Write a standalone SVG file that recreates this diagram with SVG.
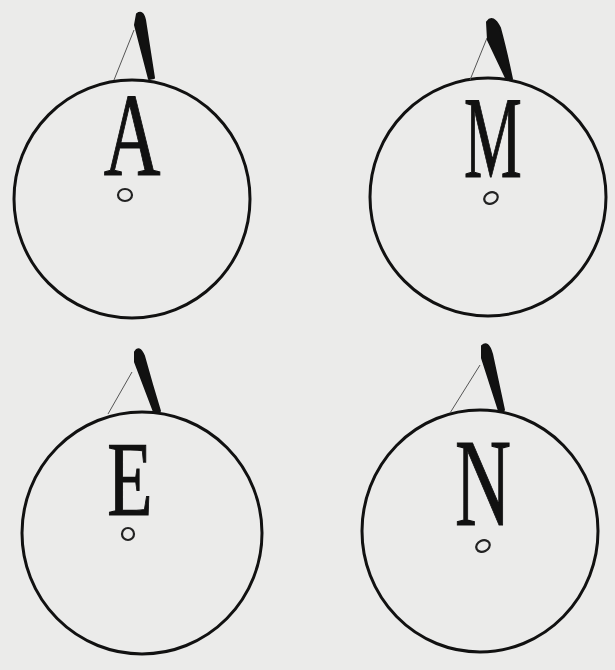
<svg xmlns="http://www.w3.org/2000/svg" width="615" height="670" viewBox="0 0 615 670">
<style>
.ring{fill:none;stroke:#111;stroke-width:3}
.thin{fill:none;stroke:#555;stroke-width:1}
.horn{fill:#111;stroke:#111;stroke-width:2;stroke-linejoin:round}
.dot{fill:none;stroke:#222;stroke-width:2.2}
.let{font-family:"Liberation Serif",serif;fill:#111;stroke:#111;stroke-width:1.2;text-anchor:middle}
</style>
<rect width="615" height="670" fill="#ebebea"/>
<g id="nodeA">
<ellipse class="ring" cx="132" cy="199" rx="118" ry="119"/>
<path class="thin" d="M134 30 L114 80"/>
<path class="horn" d="M137 14 Q143 10 145 20 L154 78 L149 79 L135 25 Z"/>
<text class="let" x="0" y="0" font-size="119" transform="translate(132 175) scale(0.66 1)">A</text>
<ellipse class="dot" cx="125" cy="195" rx="7" ry="6"/>
</g>
<g id="nodeM">
<ellipse class="ring" cx="488" cy="197" rx="118" ry="119"/>
<path class="thin" d="M487 38 L470 80"/>
<path class="horn" d="M487 22 Q493 14 500 28 Q506 50 512 79 L507 80 L488 40 Z"/>
<text class="let" x="0" y="0" font-size="116" transform="translate(493 177) scale(0.56 1)">M</text>
<ellipse class="dot" cx="491" cy="198" rx="7" ry="5.5" transform="rotate(-25 491 198)"/>
</g>
<g id="nodeE">
<ellipse class="ring" cx="142" cy="533" rx="120" ry="121"/>
<path class="thin" d="M132 372 L108 414"/>
<path class="horn" d="M135 352 Q139 345 144 356 Q152 385 160 411 L154 412 L135 362 Z"/>
<text class="let" x="0" y="0" font-size="106" transform="translate(130 515) scale(0.7 1)">E</text>
<ellipse class="dot" cx="128" cy="534" rx="6" ry="6"/>
</g>
<g id="nodeN">
<ellipse class="ring" cx="480" cy="531" rx="118" ry="121"/>
<path class="thin" d="M480 365 L450 413"/>
<path class="horn" d="M482 346 Q488 340 492 354 Q498 382 504 410 L499 411 L482 358 Z"/>
<text class="let" x="0" y="0" font-size="125" transform="translate(483 525) scale(0.62 1)">N</text>
<ellipse class="dot" cx="483" cy="546" rx="7" ry="5.5" transform="rotate(-25 483 546)"/>
</g>
<g id="connectors"></g>
</svg>
